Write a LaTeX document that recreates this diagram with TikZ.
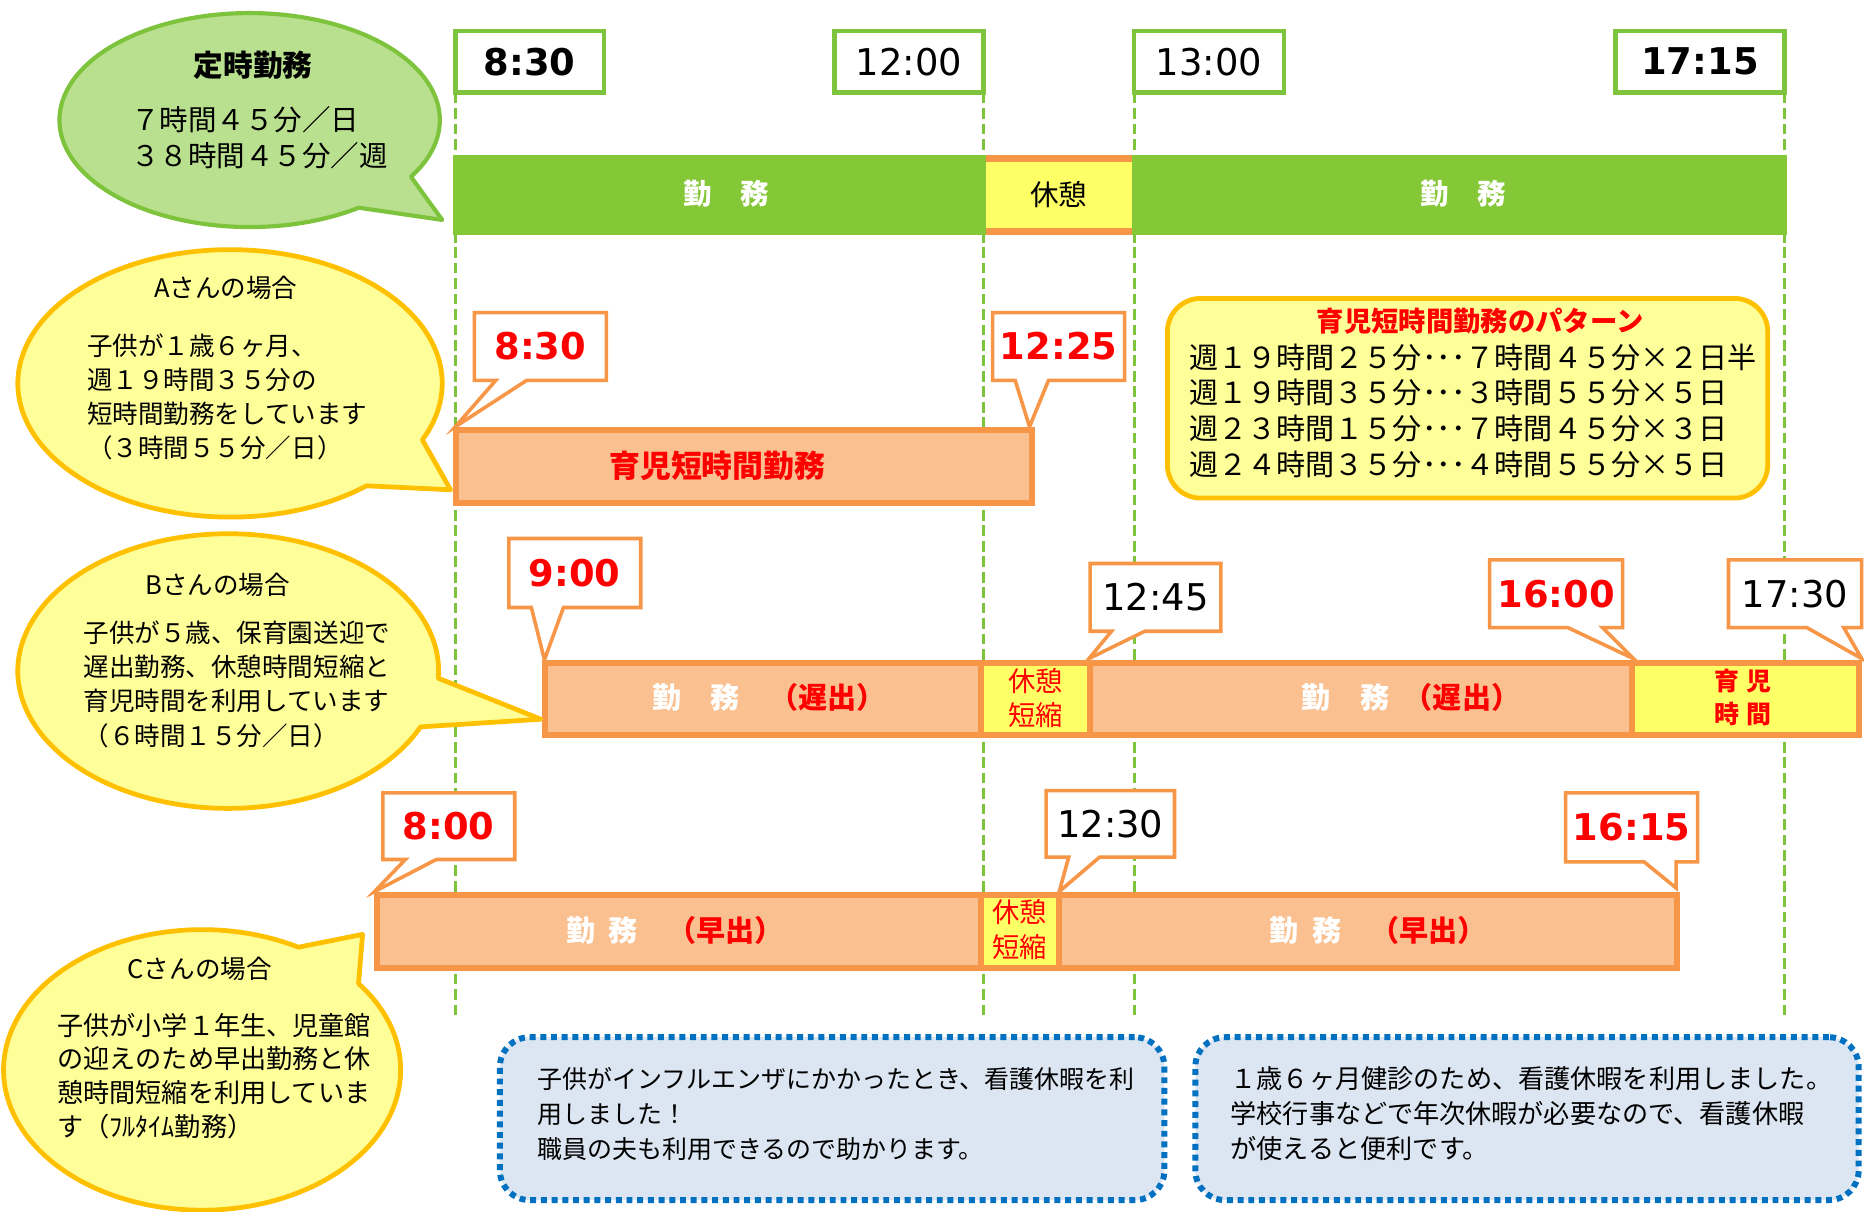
\documentclass[tikz,border=0pt]{standalone}
\usepackage{fontspec}
\setmainfont{Noto Sans CJK JP}
\newfontfamily\timefont{DejaVu Sans}
\definecolor{lgreen}{RGB}{125,195,60}
\definecolor{bargreen}{RGB}{132,199,55}
\definecolor{bubgreen}{RGB}{185,224,142}
\definecolor{bubyel}{RGB}{255,255,153}
\definecolor{gold}{RGB}{255,192,0}
\definecolor{orng}{RGB}{247,150,70}
\definecolor{lorng}{RGB}{250,192,144}
\definecolor{segyel}{RGB}{255,255,102}
\definecolor{jred}{RGB}{255,0,0}
\definecolor{bluefill}{RGB}{220,230,242}
\definecolor{blueline}{RGB}{0,112,192}
\tikzset{
  vline/.style={draw=lgreen, line width=2.6, dash pattern=on 9 off 4},
  tbox/.style={draw=lgreen, line width=4, fill=white, inner sep=0, outer sep=0, font=\timefont\fontsize{31}{31}\selectfont},
  tboxb/.style={tbox, font=\timefont\bfseries\fontsize{31}{31}\selectfont},
  gseg/.style={fill=bargreen, inner sep=0, outer sep=0},
  gtxt/.style={inner sep=0, text=white, font=\bfseries\fontsize{24}{24}\selectfont},
  restseg/.style={fill=segyel, inner sep=0, outer sep=0, font=\fontsize{24}{24}\selectfont},
  obar/.style={draw=orng, line width=5, fill=lorng, inner sep=0, outer sep=0},
  ybar/.style={draw=orng, line width=5, fill=segyel, inner sep=0, outer sep=0},
  obox/.style={draw=orng, line width=3, fill=white, line join=miter},
  tblack/.style={inner sep=0, font=\timefont\fontsize{31}{31}\selectfont},
  tred/.style={inner sep=0, text=jred, font=\timefont\bfseries\fontsize{31}{31}\selectfont},
  gbub/.style={draw=lgreen, line width=3.5, fill=bubgreen, line join=round},
  ybub/.style={draw=gold, line width=4, fill=bubyel, line join=round},
  pbox/.style={draw=gold, line width=4, fill=bubyel, rounded corners=28, inner sep=0},
  bbox/.style={draw=blueline, line width=5, fill=bluefill, rounded corners=25, dash pattern=on 5 off 4, inner sep=0},
  body/.style={anchor=north west, align=left, inner sep=0},
  bubtitle/.style={inner sep=0, font=\fontsize{21.5}{21.5}\selectfont},
  bartxt/.style={inner sep=0, font=\bfseries\fontsize{24.5}{24.5}\selectfont},
  resttxt/.style={inner sep=0, align=center, text=jred, font=\fontsize{23}{29}\selectfont},
  ikutxt/.style={inner sep=0, align=center, text=jred, font=\bfseries\fontsize{21}{28}\selectfont},
}
\newcommand{\bubble}[9]{\draw[#9] ({#1+#3*cos(#6)},{#2+#4*sin(#6)}) arc[start angle=#6, end angle={#5+360}, x radius=#3, y radius=#4] -- (#7,#8) -- cycle;}
\newcommand{\callout}[8]{\draw[obox] (#1,#2) -- (#3,#2) -- (#3,#4) -- (#8,#4) -- (#6,#7) -- (#5,#4) -- (#1,#4) -- cycle;}
\begin{document}
\begin{tikzpicture}[x=1pt,y=-1pt]
\useasboundingbox[fill=white] (0,0) rectangle (1568,1019);

% top time boxes
\node[tboxb, minimum width=125, minimum height=52] (t830) at (445.5,52) {8:30};
\node[tbox, minimum width=125, minimum height=52] (t1200) at (764.5,52) {12:00};
\node[tbox, minimum width=126, minimum height=52] (t1300) at (1017,52) {13:00};
\node[tboxb, minimum width=142, minimum height=52] (t1715) at (1430,52) {17:15};

\coordinate (e830) at (383,855);
\coordinate (e1200) at (827,855);
\coordinate (e1300) at (954,855);
\coordinate (e1715) at (1501,855);
\draw[vline] (t830.south west) -- (e830);
\draw[vline] (t1200.south east) -- (e1200);
\draw[vline] (t1300.south west) -- (e1300);
\draw[vline] (t1715.south east) -- (e1715);

% standard bar
\node[gseg, minimum width=448, minimum height=68] (g1) at (605,164) {};
\node[restseg, minimum width=123, minimum height=68] (rest) at (890.5,164) {休憩};
\node[gseg, minimum width=551, minimum height=68] (g2) at (1227.5,164) {};
\node[gtxt] (g1t) at (611,163) {勤　務};
\node[gtxt] (g2t) at (1231,163) {勤　務};
\draw[orng, line width=6] ([yshift=-3pt]rest.north west) -- ([yshift=-3pt]rest.north east);
\draw[orng, line width=6] ([yshift=3pt]rest.south west) -- ([yshift=3pt]rest.south east);

% A row
\node[obar, minimum width=485, minimum height=62] (barA) at (626,392.5) {};
\node[inner sep=0, text=jred, font=\bfseries\fontsize{26}{26}\selectfont] (barAt) at (603.5,392) {育児短時間勤務};
\callout{399}{263}{510}{320}{417}{383}{359}{443}
\node[tred] (cA1) at (454.5,291.5) {8:30};
\callout{835}{263}{946}{320}{854}{866}{359}{882}
\node[tred] (cA2) at (890.5,291.5) {12:25};

% pattern box
\node[pbox, minimum width=505, minimum height=168] (pat) at (1234.5,335) {};
\node[inner sep=0, text=jred, font=\bfseries\fontsize{23}{23}\selectfont] (patt) at (1245,270) {育児短時間勤務のパターン};
\node[body, font=\fontsize{24.5}{30}\selectfont] (patb) at (1000,289) {週１９時間２５分･･･７時間４５分×２日半\\週１９時間３５分･･･３時間５５分×５日\\週２３時間１５分･･･７時間４５分×３日\\週２４時間３５分･･･４時間５５分×５日};

% B row
\node[obar, minimum width=366.5, minimum height=61] (bB1) at (641.75,588) {};
\node[ybar, minimum width=92, minimum height=61] (bB2) at (871,588) {};
\node[obar, minimum width=456, minimum height=61] (bB3) at (1145,588) {};
\node[ybar, minimum width=190.5, minimum height=61] (bB4) at (1468.25,588) {};
\node[bartxt] (bB1t) at (647,587) {\textcolor{white}{勤　務　}\textcolor{jred}{（遅出）}};
\node[bartxt] (bB3t) at (1187,587) {\textcolor{white}{勤　務}\hspace{0.5em}\textcolor{jred}{（遅出）}};
\node[resttxt] (bB2t) at (871,587) {休憩\\短縮};
\node[ikutxt] (bB4t) at (1466,587) {育\hspace{0.3em}児\\時\hspace{0.3em}間};
\callout{428}{453}{539}{511}{447}{458}{555}{474}
\node[tred] (cB1) at (483.5,482) {9:00};
\callout{917}{474}{1027}{531}{935}{916}{554}{963}
\node[tblack] (cB2) at (972,502.5) {12:45};
\callout{1253}{471}{1365}{528}{1319}{1374}{554}{1348}
\node[tred] (cB3) at (1309,499.5) {16:00};
\callout{1454}{471}{1566}{528}{1520}{1566}{554}{1551}
\node[tblack] (cB4) at (1510,499.5) {17:30};

% C row
\node[obar, minimum width=507.5, minimum height=62] (bC1) at (571.25,783.5) {};
\node[ybar, minimum width=66, minimum height=62] (bC2) at (858,783.5) {};
\node[obar, minimum width=519.5, minimum height=62] (bC3) at (1150.75,783.5) {};
\node[bartxt] (bC1t) at (568,783) {\textcolor{white}{勤\hspace{0.45em}務　}\textcolor{jred}{（早出）}};
\node[bartxt] (bC3t) at (1159.5,783) {\textcolor{white}{勤\hspace{0.45em}務　}\textcolor{jred}{（早出）}};
\node[resttxt] (bC2t) at (858,782) {休憩\\短縮};
\callout{322}{667}{433}{723}{341}{315}{750}{367}
\node[tred] (cC1) at (377.5,695) {8:00};
\callout{880}{665}{988}{721}{899}{891}{750}{925}
\node[tblack] (cC2) at (934,693) {12:30};
\callout{1317}{667}{1428}{725}{1383}{1410}{747}{1410}
\node[tred] (cC3) at (1372.5,696) {16:15};

% bubbles
\bubble{210}{101}{160}{90}{32}{55}{372}{185}{gbub}
\node[inner sep=0, font=\bfseries\fontsize{25}{25}\selectfont] (gtitle) at (213,55) {定時勤務};
\node[body, font=\fontsize{24}{30}\selectfont] (gbody) at (110,89.2) {７時間４５分／日\\３８時間４５分／週};

\bubble{193.5}{322.5}{178.5}{112.5}{25}{50}{379}{412}{ybub}
\node[bubtitle] (atitle) at (190,242) {Aさんの場合};
\node[body, font=\fontsize{21.5}{28.7}\selectfont] (abody) at (73,280.3) {子供が１歳６ヶ月、\\週１９時間３５分の\\短時間勤務をしています\\（３時間５５分／日）};

\bubble{192}{564.5}{177}{115.5}{3}{24}{455}{605}{ybub}
\node[bubtitle] (btitle) at (183,492) {Bさんの場合};
\node[body, font=\fontsize{21.5}{28.7}\selectfont] (bbody) at (70,522.3) {子供が５歳、保育園送迎で\\遅出勤務、休憩時間短縮と\\育児時間を利用しています\\（６時間１５分／日）};

\bubble{170}{900}{167}{118}{-61}{-38}{305}{786}{ybub}
\node[bubtitle] (ctitle) at (168,815) {Cさんの場合};
\node[body, font=\fontsize{22}{28.4}\selectfont] (cbody) at (48,852) {子供が小学１年生、児童館\\の迎えのため早出勤務と休\\憩時間短縮を利用していま\\す（ﾌﾙﾀｲﾑ勤務）};

% blue notes
\node[bbox, minimum width=559, minimum height=137] (n1) at (700,941) {};
\node[bbox, minimum width=558, minimum height=137] (n2) at (1284.5,941) {};
\node[body, font=\fontsize{21}{29.5}\selectfont] (n1t) at (452,897.5) {子供がインフルエンザにかかったとき、看護休暇を利\\用しました！\\職員の夫も利用できるので助かります。};
\node[body, font=\fontsize{22}{29.5}\selectfont] (n2t) at (1035,897) {１歳６ヶ月健診のため、看護休暇を利用しました。\\学校行事などで年次休暇が必要なので、看護休暇\\が使えると便利です。};
\end{tikzpicture}
\end{document}
